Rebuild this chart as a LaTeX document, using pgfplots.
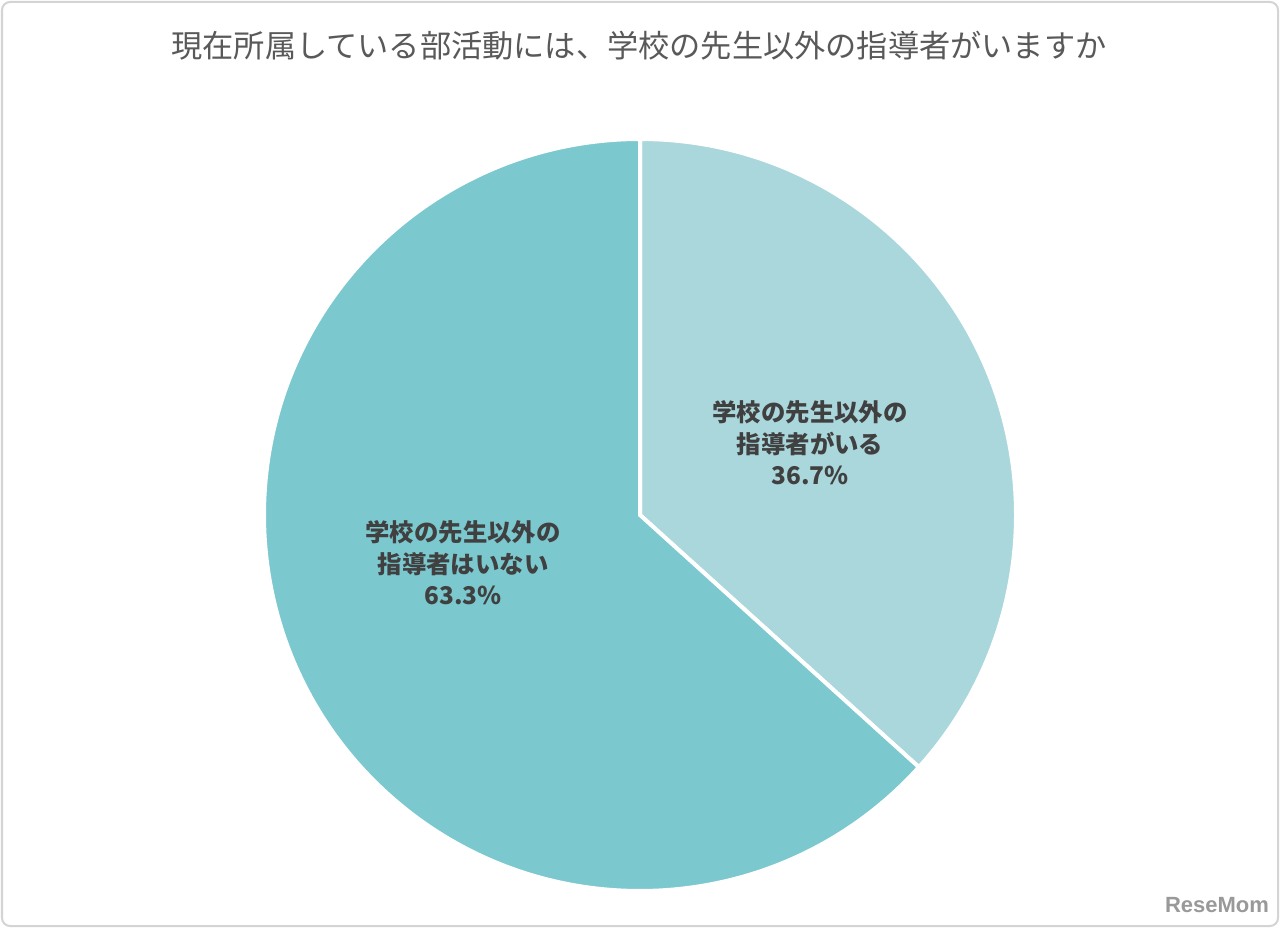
\documentclass[border=0pt]{standalone}
\usepackage{pgfplots}
\pgfplotsset{compat=1.18}
\usepackage{pgfplotstable}
\usepackage{fontspec}
\newfontfamily\cjk{Noto Sans CJK JP}
\newfontfamily\logofont{Liberation Sans}
\definecolor{sliceA}{HTML}{AAD7DC}
\definecolor{sliceB}{HTML}{7BC8CF}
\definecolor{labelgray}{HTML}{404040}
\definecolor{titlegray}{HTML}{595959}
\definecolor{framegray}{HTML}{D4D4D4}

\pgfplotstableread{
label share
1 36.7
2 63.3
}\piedata

\begin{document}
\begin{tikzpicture}
\pgfplotstablegetelem{0}{share}\of\piedata
\pgfmathsetmacro\shareA{\pgfplotsretval}
\pgfplotstablegetelem{1}{share}\of\piedata
\pgfmathsetmacro\shareB{\pgfplotsretval}
\pgfmathsetmacro\endA{90-3.6*\shareA}
\begin{axis}[
  x=0.5pt, y=0.5pt,
  xmin=0, xmax=1280, ymin=0, ymax=928,
  scale only axis, hide axis, clip=false,
  at={(0,0)}, anchor=south west,
]
\path[fill=white] (axis cs:0,0) rectangle (axis cs:1280,928);
\draw[framegray, line width=1pt, rounded corners=4pt] (axis cs:2,2) rectangle (axis cs:1278,926);
% slices
\filldraw[fill=sliceA, draw=white, line width=2pt, line join=miter]
  (axis cs:640,413) -- ++(90:188pt) arc[start angle=90, end angle=\endA, radius=188pt] -- cycle;
\filldraw[fill=sliceB, draw=white, line width=2pt, line join=miter]
  (axis cs:640,413) -- ++(\endA:188pt) arc[start angle=\endA, end angle=-270, radius=188pt] -- cycle;
% title
\node[font=\cjk\fontsize{15.6pt}{18pt}\selectfont, text=titlegray] at (axis cs:639,882)
  {現在所属している部活動には、学校の先生以外の指導者がいますか};
% labels
\node[align=center, font=\cjk\bfseries\fontsize{12.2pt}{15.75pt}\selectfont, text=labelgray] at (axis cs:810,485)
  {学校の先生以外の\\指導者がいる\\\pgfmathprintnumber[fixed,precision=1,fixed zerofill,assume math mode=true]{\shareA}\%};
\node[align=center, font=\cjk\bfseries\fontsize{12.2pt}{15.75pt}\selectfont, text=labelgray] at (axis cs:463,365)
  {学校の先生以外の\\指導者はいない\\\pgfmathprintnumber[fixed,precision=1,fixed zerofill,assume math mode=true]{\shareB}\%};
% logo
\node[font=\logofont\bfseries\fontsize{11pt}{12pt}\selectfont, text=black!40] at (axis cs:1217,23) {ReseMom};
\end{axis}
\end{tikzpicture}
\end{document}
